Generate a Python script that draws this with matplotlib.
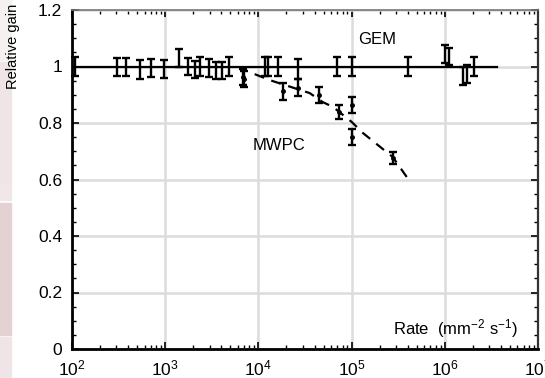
import matplotlib
matplotlib.use("Agg")
import matplotlib.pyplot as plt
import numpy as np
from matplotlib.patches import Rectangle
from matplotlib.ticker import LogLocator, MultipleLocator, FixedLocator, FixedFormatter, NullFormatter

plt.rcParams['font.family'] = ['Liberation Sans', 'DejaVu Sans']
plt.rcParams['mathtext.fontset'] = 'custom'
plt.rcParams['mathtext.rm'] = 'Liberation Sans'
plt.rcParams['mathtext.it'] = 'Liberation Sans:italic'
plt.rcParams['mathtext.bf'] = 'Liberation Sans:bold'

# ---- data (log10 of rate, relative gain, error) ----
gem_logx = [2.035, 2.48, 2.58, 2.73, 2.85, 2.99, 3.15, 3.24, 3.32, 3.37, 3.47,
            3.54, 3.61, 3.68, 4.07, 4.10, 4.21, 4.42, 4.84, 5.00, 5.60,
            6.00, 6.04, 6.19, 6.24, 6.31]
gem_y = [1.00, 0.998, 0.998, 0.99, 0.995, 0.99, 1.03, 1.00, 0.99, 1.00, 0.995,
         0.985, 0.985, 1.00, 1.00, 1.00, 1.00, 0.99, 1.00, 1.00, 1.00,
         1.045, 1.035, 0.966, 0.973, 1.00]
gem_err = [0.035, 0.033, 0.033, 0.033, 0.033, 0.032, 0.033, 0.030, 0.030, 0.032, 0.032,
           0.030, 0.030, 0.032, 0.032, 0.032, 0.032, 0.035, 0.033, 0.033, 0.033,
           0.032, 0.030, 0.032, 0.032, 0.033]

mwpc_logx = [3.84, 3.85, 4.26, 4.42, 4.65, 4.86, 5.00, 5.00, 5.44]
mwpc_y = [0.963, 0.955, 0.913, 0.925, 0.90, 0.84, 0.864, 0.75, 0.676]
mwpc_err = [0.028, 0.028, 0.03, 0.03, 0.028, 0.025, 0.028, 0.027, 0.022]

gem_line_logx = [2.0, 6.555]
gem_line_y = [1.0, 1.0]

fit_logx = [3.96, 4.12, 4.55, 4.69, 4.80, 5.00, 5.12, 5.44, 5.60]
fit_y = [0.973, 0.952, 0.906, 0.874, 0.857, 0.804, 0.765, 0.680, 0.605]

ytick_vals = [0, 0.2, 0.4, 0.6, 0.8, 1.0, 1.2]
ytick_labels = ['0', '0.2', '0.4', '0.6', '0.8', '1', '1.2']
xtick_exps = [2, 3, 4, 5, 6, 7]

W, H = 545, 378
fig = plt.figure(figsize=(W / 100, H / 100), dpi=100)

# page background strip on the left
for (y0, y1, c) in [(0, 60, '#f6f1f1'), (62, 182, '#efe4e6'), (183, 200, '#f1e7e9'),
                    (203, 335, '#e4d1d4'), (337, 378, '#efe5e6')]:
    fig.patches.append(Rectangle((0, 1 - y1 / H), 11 / W, (y1 - y0) / H,
                                 transform=fig.transFigure, color=c, zorder=0))

ax = fig.add_axes([72 / W, 1 - 349 / H, (538 - 72) / W, (349 - 10) / H])
ax.set_xscale('log')
ax.set_xlim(1e2, 1e7)
ax.set_ylim(0, 1.2)

ax.grid(True, which='major', color='#dcdcdc', linewidth=1.8)
ax.set_axisbelow(True)

gx = [10 ** v for v in gem_logx]
mx = [10 ** v for v in mwpc_logx]

ax.plot([10 ** v for v in gem_line_logx], gem_line_y, color='black', lw=1.6, zorder=3)
ax.plot([10 ** v for v in fit_logx], fit_y, color='black', lw=1.6,
        linestyle=(0, (4.5, 3.5)), zorder=3)

eb1 = ax.errorbar(gx, gem_y, yerr=gem_err, fmt='none', ecolor='black', elinewidth=1.7,
                  capsize=3, capthick=1.7, zorder=6)
eb2 = ax.errorbar(mx, mwpc_y, yerr=mwpc_err, fmt='o', ms=2.5, color='black', ecolor='black',
                  elinewidth=1.7, capsize=3, capthick=1.7, zorder=6)
for eb in (eb1, eb2):
    for art in eb.get_children():
        art.set_clip_on(False)

# ticks
ax.xaxis.set_major_locator(FixedLocator([10.0 ** e for e in xtick_exps]))
ax.xaxis.set_major_formatter(FixedFormatter([r'10$^{%d}$' % e for e in xtick_exps]))
ax.xaxis.set_minor_locator(LogLocator(base=10, subs=np.arange(2, 10), numticks=20))
ax.xaxis.set_minor_formatter(NullFormatter())
ax.yaxis.set_major_locator(FixedLocator(ytick_vals))
ax.yaxis.set_major_formatter(FixedFormatter(ytick_labels))
ax.yaxis.set_minor_locator(MultipleLocator(0.05))

ax.tick_params(which='both', direction='in', top=True, right=True, colors='black')
ax.tick_params(which='major', length=5, width=1.2, labelsize=12.5, pad=7)
ax.tick_params(which='minor', length=3, width=1.0)
ax.tick_params(axis='x', which='both', top=True)

for s in ['left', 'bottom']:
    ax.spines[s].set_linewidth(2.0)
    ax.spines[s].set_color('black')
ax.spines['right'].set_linewidth(1.6)
ax.spines['right'].set_color('#333333')
ax.spines['top'].set_linewidth(1.2)
ax.spines['top'].set_color('#777777')

ax.text(10 ** 5.07, 1.097, 'GEM', fontsize=12, va='center', ha='left')
ax.text(10 ** 3.94, 0.72, 'MWPC', fontsize=12, va='center', ha='left')
ax.text(10 ** 6.78, 0.074, r'Rate  (mm$^{-2}$ s$^{-1}$)', fontsize=12, va='center', ha='right')

fig.text(13 / W, 1 - 46 / H, 'Relative gain', rotation=90, fontsize=10.5,
         va='center', ha='center')

fig.savefig('out.png', dpi=100)
